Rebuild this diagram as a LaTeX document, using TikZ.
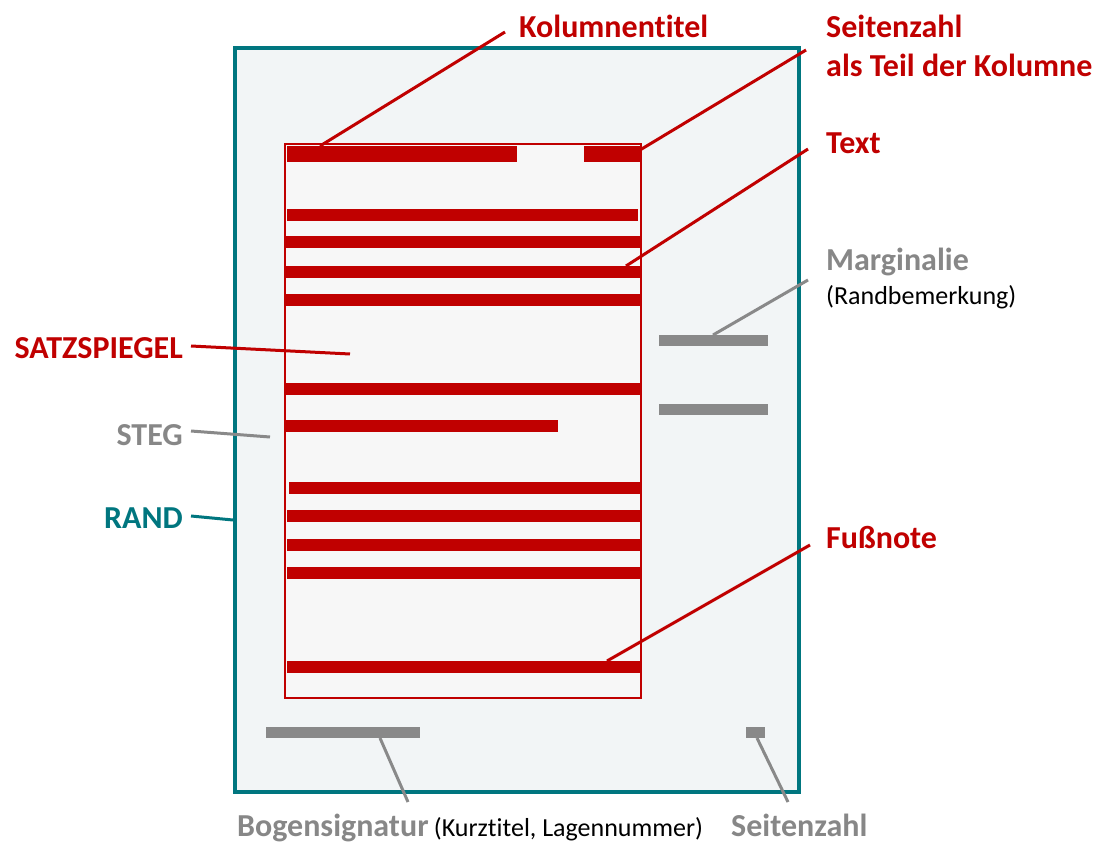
\documentclass[tikz,border=0pt]{standalone}
\usepackage{fontspec}
\setmainfont{Carlito}[Ligatures=NoCommon]
\definecolor{tred}{HTML}{C00000}
\definecolor{tteal}{HTML}{00767F}
\definecolor{tgray}{HTML}{898989}
\definecolor{tgraytxt}{HTML}{878787}
\definecolor{pagefill}{HTML}{F2F5F6}
\definecolor{spfill}{HTML}{F7F7F7}
\tikzset{
  redbar/.style={fill=tred, inner sep=0, outer sep=0, anchor=north west, minimum height=12pt},
  graybar/.style={fill=tgray, inner sep=0, outer sep=0, anchor=north west, minimum height=11pt},
  lbl/.style={inner sep=0, font=\fontsize{32}{38}\selectfont\bfseries},
  small/.style={inner sep=0, font=\fontsize{26}{31}\selectfont, text=black},
  redlead/.style={draw=tred, line width=3pt},
  graylead/.style={draw=tgray, line width=3pt},
  teallead/.style={draw=tteal, line width=3pt},
}
\begin{document}
\begin{tikzpicture}[x=1pt,y=-1pt]
\useasboundingbox (0,0) rectangle (1100,845);
% page
\node[draw=tteal, line width=4pt, fill=pagefill, inner sep=0, anchor=north west,
  minimum width=564pt, minimum height=744pt] (page) at (233,46) {};
% Satzspiegel
\node[draw=tred, line width=2pt, fill=spfill, inner sep=0, anchor=north west,
  minimum width=356pt, minimum height=554pt] (sp) at (284,143) {};
% red bars
\node[redbar, minimum width=230pt, minimum height=16pt] (kt) at (287,146) {};
\node[redbar, minimum width=56pt, minimum height=16pt] (sz) at (584,146) {};
\node[redbar, minimum width=351pt] (t1) at (287,209) {};
\node[redbar, minimum width=354pt] (t2) at (286,236) {};
\node[redbar, minimum width=354pt] (t3) at (286,266) {};
\node[redbar, minimum width=354pt] (t4) at (286,294) {};
\node[redbar, minimum width=354pt] (t5) at (286,383) {};
\node[redbar, minimum width=272pt] (t6) at (286,420) {};
\node[redbar, minimum width=351pt] (t7) at (289,482) {};
\node[redbar, minimum width=353pt] (t8) at (287,510) {};
\node[redbar, minimum width=353pt] (t9) at (287,539) {};
\node[redbar, minimum width=353pt] (t10) at (287,567) {};
\node[redbar, minimum width=353pt] (fn) at (287,661) {};
% gray bars
\node[graybar, minimum width=109pt] (m1) at (659,335) {};
\node[graybar, minimum width=109pt] (m2) at (659,404) {};
\node[graybar, minimum width=154pt] (bs) at (266,727) {};
\node[graybar, minimum width=19pt] (bz) at (746,727) {};
% labels
\node[lbl, text=tred, anchor=base west] (Lkt) at (519,38) {Kolumnentitel};
\node[lbl, text=tred, anchor=base west] (Lsz) at (826,38) {Seitenzahl};
\node[lbl, text=tred, anchor=base west] (Lsz2) at (826,77) {als Teil der Kolumne};
\node[lbl, text=tred, anchor=base west] (Ltx) at (826,154) {Text};
\node[lbl, text=tgraytxt, anchor=base west] (Lmg) at (826,270) {Marginalie};
\node[small, anchor=base west] (Lrb) at (826,304) {(Randbemerkung)};
\node[lbl, text=tred, anchor=base east] (Lsp) at (183,358) {SATZSPIEGEL};
\node[lbl, text=tgraytxt, anchor=base east] (Lst) at (183,445) {STEG};
\node[lbl, text=tteal, anchor=base east] (Lrd) at (183,528) {RAND};
\node[lbl, text=tred, anchor=base west] (Lfn) at (826,548) {Fußnote};
\node[lbl, text=tgraytxt, anchor=base west] (Lbs) at (237,836) {Bogensignatur};
\node[small, anchor=base west] (Lkl) at ([xshift=5pt]Lbs.base east) {(Kurztitel, Lagennummer)};
\node[lbl, text=tgraytxt, anchor=base west] (Lbz) at (731,836) {Seitenzahl};
% connector end coordinates
\coordinate (ckt1) at (320,146); \coordinate (ckt2) at (505,32);
\coordinate (csz1) at (640,150); \coordinate (csz2) at (806,50);
\coordinate (ctx1) at (626,266); \coordinate (ctx2) at (808,149);
\coordinate (cmg1) at (713,335); \coordinate (cmg2) at (808,280);
\coordinate (csp1) at (191,346); \coordinate (csp2) at (350,354);
\coordinate (cst1) at (191,431); \coordinate (cst2) at (270,437);
\coordinate (crd1) at (191,516); \coordinate (crd2) at (233,520);
\coordinate (cfn1) at (607,661); \coordinate (cfn2) at (810,545);
\coordinate (cbs1) at (380,738); \coordinate (cbs2) at (408,802);
\coordinate (cbz1) at (757,738); \coordinate (cbz2) at (788,802);
% connectors
\draw[redlead] (ckt1) -- (ckt2);
\draw[redlead] (csz1) -- (csz2);
\draw[redlead] (ctx1) -- (ctx2);
\draw[graylead] (cmg1) -- (cmg2);
\draw[redlead] (csp1) -- (csp2);
\draw[graylead] (cst1) -- (cst2);
\draw[teallead] (crd1) -- (crd2);
\draw[redlead] (cfn1) -- (cfn2);
\draw[graylead] (cbs1) -- (cbs2);
\draw[graylead] (cbz1) -- (cbz2);
\end{tikzpicture}
\end{document}
